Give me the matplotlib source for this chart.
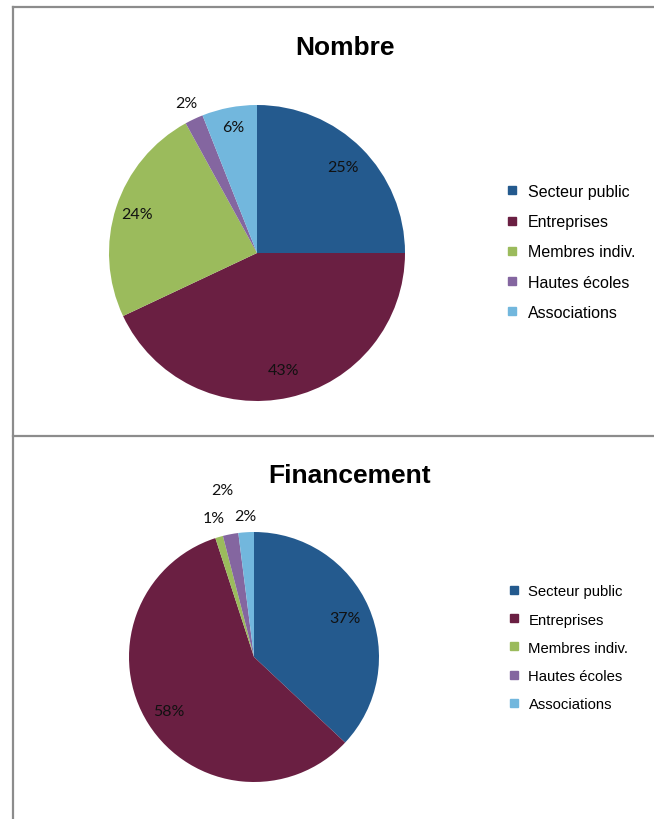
import numpy as np
import matplotlib
matplotlib.use('Agg')
import matplotlib.pyplot as plt
from matplotlib.lines import Line2D

# Data
categories = ['Secteur public', 'Entreprises', 'Membres indiv.', 'Hautes écoles', 'Associations']
nombre = [25, 43, 24, 2, 6]
financement = [37, 58, 1, 2, 2]
colors = ['#245a8e', '#6a1f42', '#9bbb5c', '#8466a0', '#72b7dd']

# label distances (fraction of radius) as placed in the original
nombre_dist = [0.82, 0.81, 0.85, 1.12, 0.87]
financement_dist = [0.79, 0.81, 1.16, 1.36, 1.13]

W, H = 654, 820
fig = plt.figure(figsize=(W / 100, H / 100), dpi=100)


def px_axes(cx, cy, r):
    return fig.add_axes([(cx - r) / W, (H - cy - r) / H, 2 * r / W, 2 * r / H])


def draw_pie(ax, values, dists):
    wedges, _ = ax.pie(values, colors=colors, startangle=90, counterclock=False,
                       radius=1, wedgeprops=dict(linewidth=0))
    for w, v, d in zip(wedges, values, dists):
        ang = np.deg2rad((w.theta1 + w.theta2) / 2)
        ax.text(d * np.cos(ang), d * np.sin(ang), f'{v}%', ha='center', va='center',
                fontsize=11.5, family='Lato', color='#111111', clip_on=False)
    ax.set_xlim(-1, 1)
    ax.set_ylim(-1, 1)
    ax.axis('off')


ax1 = px_axes(257, 254, 148)
draw_pie(ax1, nombre, nombre_dist)
ax2 = px_axes(254, 658, 125)
draw_pie(ax2, financement, financement_dist)

fig.text(345 / W, 1 - 48 / H, 'Nombre', ha='center', va='center',
         fontsize=19, fontweight='bold', family='Liberation Sans')
fig.text(350 / W, 1 - 476 / H, 'Financement', ha='center', va='center',
         fontsize=19, fontweight='bold', family='Liberation Sans')

handles = [Line2D([], [], marker='s', linestyle='none', markersize=6,
                  markerfacecolor=c, markeredgecolor=c) for c in colors]
fig.legend(handles, categories, loc='upper left', bbox_to_anchor=(498 / W, 1 - 177 / H),
           frameon=False, prop={'family': 'Liberation Sans', 'size': 11.5},
           handlelength=0.7, handletextpad=0.65, labelspacing=0.95, borderpad=0)
fig.legend(handles, categories, loc='upper left', bbox_to_anchor=(501 / W, 1 - 578 / H),
           frameon=False, prop={'family': 'Liberation Sans', 'size': 10.7},
           handlelength=0.7, handletextpad=0.65, labelspacing=0.95, borderpad=0)

# panel borders
line_kw = dict(color='#8c8c8c', linewidth=1.6)
fig.add_artist(Line2D([13 / W, 13 / W], [0, 1 - 8 / H], transform=fig.transFigure, **line_kw))
fig.add_artist(Line2D([13 / W, 1], [1 - 8 / H, 1 - 8 / H], transform=fig.transFigure, **line_kw))
fig.add_artist(Line2D([13 / W, 1], [1 - 437 / H, 1 - 437 / H], transform=fig.transFigure, **line_kw))

fig.savefig('out.png', dpi=100)
